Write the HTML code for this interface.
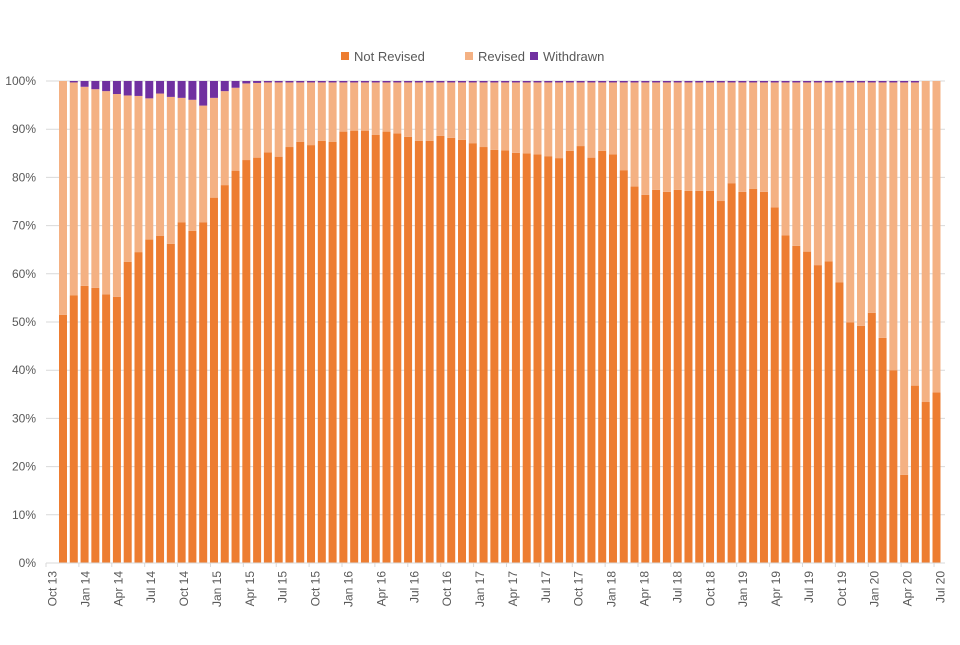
<!DOCTYPE html>
<html><head><meta charset="utf-8"><style>
body{margin:0;background:#fff;font-family:"Liberation Sans",sans-serif}
svg text{font-family:"Liberation Sans",sans-serif;fill:#595959}
</style></head><body>
<svg id="chart" width="960" height="640" xmlns="http://www.w3.org/2000/svg">
<g id="legend">
<rect x="341" y="52" width="8" height="8" fill="#ED7D31"/>
<text x="354" y="61" font-size="13">Not Revised</text>
<rect x="465" y="52" width="8" height="8" fill="#F4B183"/>
<text x="478" y="61" font-size="13">Revised</text>
<rect x="530" y="52" width="8" height="8" fill="#7030A0"/>
<text x="543" y="61" font-size="13">Withdrawn</text>
</g>
<g id="grid"></g><g id="bars"></g><g id="axes"></g>
</svg>
<script>
const months=["Oct","Nov","Dec","Jan","Feb","Mar","Apr","May","Jun","Jul","Aug","Sep"];
const notRevised=[51.5,55.5,57.5,57.1,55.7,55.2,62.5,64.5,67.1,67.9,66.2,70.7,68.9,70.7,75.8,78.4,81.4,83.6,84.1,85.2,84.3,86.3,87.4,86.7,87.6,
87.4,89.5,89.7,89.7,88.8,89.5,89.1,88.4,87.6,87.6,88.6,88.2,87.8,87.1,86.3,85.7,85.6,85.1,
85.0,84.8,84.4,84.0,85.5,86.5,84.1,85.5,84.8,81.5,78.1,76.4,77.4,77.0,77.4,77.2,77.2,77.2,75.1,78.8,77.0,77.6,77.0,73.8,68.0,65.8,64.6,61.8,62.6,58.2,49.9,49.2,51.9,46.7,40.0,18.3,36.8,33.4,35.4];
const withdrawn=[0,0.3,1.2,1.7,2.1,2.7,3.0,3.1,3.6,2.6,3.3,3.5,3.9,5.1,3.5,2.1,1.4,0.5,0.4,0.3,0.3,0.3,0.3,0.3,0.3,0.3,0.3,0.3,0.3,0.3,0.3,0.3,0.3,0.3,0.3,0.3,0.3,0.3,0.3,0.3,0.3,0.3,0.3,
0.3,0.3,0.3,0.3,0.3,0.3,0.3,0.3,0.3,0.3,0.3,0.3,0.3,0.3,0.3,0.3,0.3,0.3,0.3,0.3,0.3,0.3,0.3,0.3,0.3,0.3,0.3,0.3,0.3,0.3,0.3,0.3,0.3,0.3,0.3,0.3,0.3,0,0];
const yTicks=[0,10,20,30,40,50,60,70,80,90,100];
const categories=notRevised.map((_,i)=>{const m=i%12;const y=13+Math.floor((9+i)/12);return months[m]+" "+y;});
const revised=notRevised.map((v,i)=>Math.max(0,100-v-withdrawn[i]));
const NS="http://www.w3.org/2000/svg";
const x0=46,x1=945,yTop=81,yBot=563,n=categories.length;
const firstC=63,lastC=936.5;
const pitch=(lastC-firstC)/(n-1), bw=8;
const xc=i=>firstC+pitch*i;
const lp=(x1-x0)/n;
const xl=i=>x0+lp*(i+0.5);
const yS=v=>yBot-(yBot-yTop)*v/100;
function mk(t,a,p){const e=document.createElementNS(NS,t);for(const k in a)e.setAttribute(k,a[k]);p.appendChild(e);return e;}
const grid=document.getElementById('grid'),bars=document.getElementById('bars'),axes=document.getElementById('axes');
yTicks.forEach(t=>{
 const l=mk('line',{x1:x0,x2:x1,y1:yS(t),y2:yS(t),stroke:'#d9d9d9','stroke-width':1},grid);
 
 
 const tx=mk('text',{x:36,y:yS(t)+4,'text-anchor':'end','font-size':12},axes);
 tx.textContent=t+'%';
 
 
});
categories.forEach((c,i)=>{
 const x=xc(i)-bw/2;
 const a=mk('rect',{x:x,y:yS(notRevised[i]),width:bw,height:yBot-yS(notRevised[i]),fill:'#ED7D31'},bars);
 
 
 const b=mk('rect',{x:x,y:yS(notRevised[i]+revised[i]),width:bw,height:yS(notRevised[i])-yS(notRevised[i]+revised[i]),fill:'#F4B183'},bars);
 
 
 const top=notRevised[i]+revised[i];
 const w=mk('rect',{x:x,y:yS(top+withdrawn[i]),width:bw,height:yS(top)-yS(top+withdrawn[i]),fill:'#7030A0'},bars);
 
 
 if(i%3===0){
  const tk=mk('line',{x1:x0+lp*i,x2:x0+lp*i,y1:yBot,y2:yBot+4,stroke:'#d9d9d9'},axes);
  
  
  const t=mk('text',{'font-size':12,'text-anchor':'end',transform:`translate(${xl(i)+5},${yBot+8}) rotate(-90)`},axes);
  t.textContent=c;
  
  
 }
});
const ax=mk('line',{x1:x0,x2:x1,y1:yBot,y2:yBot,stroke:'#d9d9d9'},axes);


</script>
</body></html>
